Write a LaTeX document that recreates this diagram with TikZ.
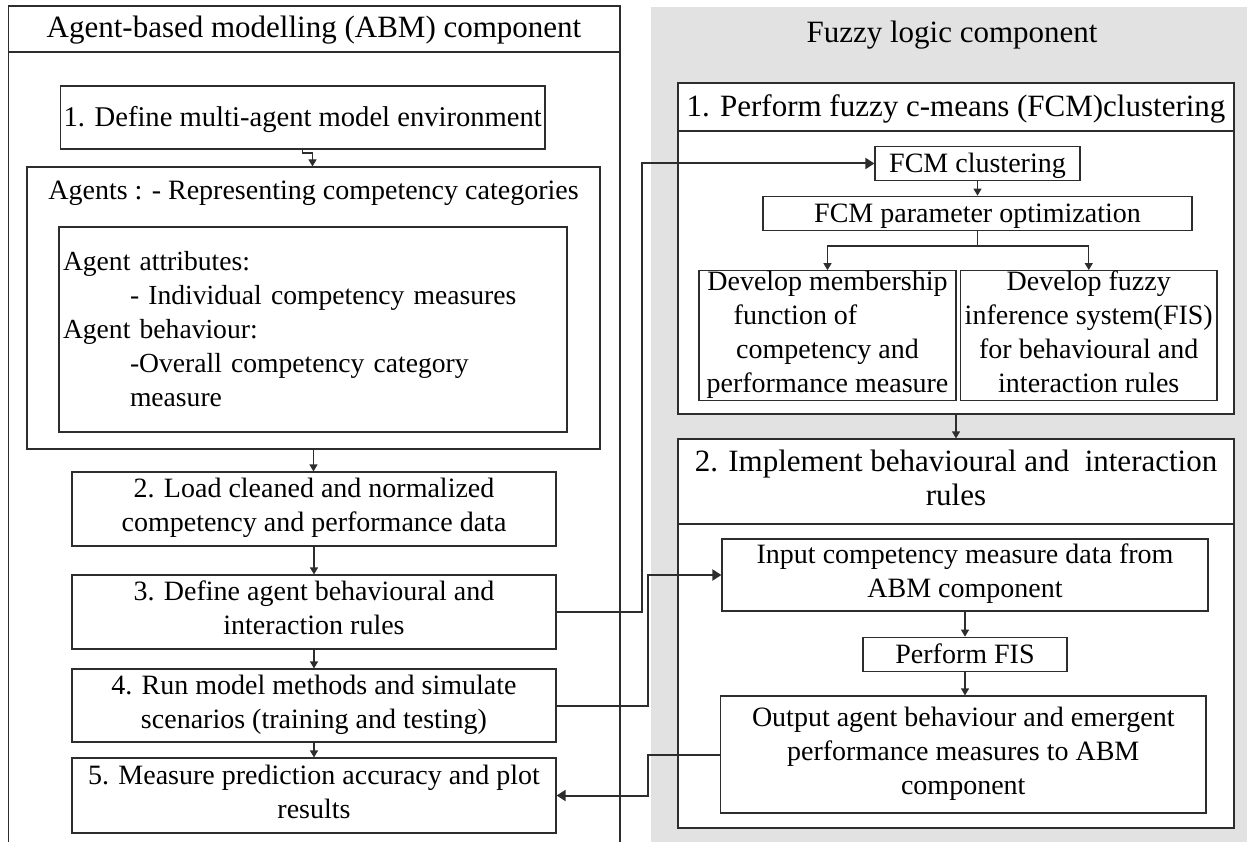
\documentclass[tikz,border=0pt]{standalone}
\usepackage{fontspec}
\setmainfont{Liberation Serif}
\usetikzlibrary{arrows.meta}
\definecolor{bgc}{RGB}{226,226,226}
\definecolor{ln}{RGB}{45,45,45}
\begin{document}
\begin{tikzpicture}[x=1pt,y=-1pt,
  txt/.style={inner sep=0pt, align=center, font=\fontsize{28}{34}\selectfont, text=black,
    execute at begin node={\rule{0pt}{26.5pt}}, execute at end node={\rule[-8pt]{0pt}{8pt}}},
  ttl/.style={txt, font=\fontsize{31}{34}\selectfont},
  box/.style={txt, draw=ln, fill=white, line width=1.2pt},
  arr/.style={draw=ln, line width=1.2pt, -{Triangle[length=7pt,width=8pt]}},
  big/.style={draw=ln, line width=2pt, -{Triangle[length=9pt,width=11pt]}},
  plain/.style={draw=ln, line width=1.2pt}]
\useasboundingbox (0,0) rectangle (1247,842);
% backgrounds
\node[fill=bgc, inner sep=0pt, minimum width=599pt, minimum height=840pt] (bg) at (950.5,427) {};
\node[box, minimum width=611.5pt, minimum height=864pt] (abm) at (314.25,438) {};
\node[ttl] (abmt) at (314,28) {Agent-based modelling (ABM) component};
\draw[plain] (abm.west |- 0,52) -- (abm.east |- 0,52);
\node[ttl] (flt) at (952,33) {Fuzzy logic component};
% left column
\node[box, minimum width=484.5pt, minimum height=63pt, font=\fontsize{28.6}{34}\selectfont] (b1) at (302.75,117.5) {1. Define multi-agent model environment};
\node[box, minimum width=573pt, minimum height=282pt] (agents) at (313.5,308) {};
\node[txt] (agt) at (313.5,190) {Agents : - Representing competency categories};
\node[box, align=left, inner xsep=4pt, text width=500pt, minimum height=205pt, font=\fontsize{27.6}{34}\selectfont] (attr) at (313,329.5)
  {Agent attributes:\\
   \hspace*{67pt}- Individual competency measures\\
   Agent behaviour:\\
   \hspace*{67pt}-Overall competency category\\
   \hspace*{67pt}measure};
\node[box, minimum width=484pt, minimum height=74pt] (b2) at (314,509) {2. Load cleaned and normalized\\competency and performance data};
\node[box, minimum width=484pt, minimum height=74pt] (b3) at (314,612) {3. Define agent behavioural and\\interaction rules};
\node[box, minimum width=484pt, minimum height=73pt] (b4) at (314,705.5) {4. Run model methods and simulate\\scenarios (training and testing)};
\node[box, minimum width=484pt, minimum height=75pt] (b5) at (314,795.5) {5. Measure prediction accuracy and plot\\results};
% right column
\node[box, minimum width=556pt, minimum height=331pt] (p1) at (956,248.5) {};
\node[ttl] (p1t) at (956,107) {1. Perform fuzzy c-means (FCM)clustering};
\draw[plain] (p1.west |- 0,131) -- (p1.east |- 0,131);
\node[box, minimum width=205pt, minimum height=33pt] (fcm) at (977.5,163.5) {FCM clustering};
\node[box, minimum width=429pt, minimum height=33pt] (par) at (977.5,213.5) {FCM parameter optimization};
\node[box, minimum width=257pt, minimum height=129pt] (d1) at (827.5,335.5) {Develop membership\\function of\rule{64pt}{0pt}\\competency and\\performance measure};
\node[box, minimum width=256.5pt, minimum height=129pt] (d2) at (1088.75,335.5) {Develop fuzzy\\inference system(FIS)\\for behavioural and\\interaction rules};
\node[box, minimum width=556pt, minimum height=389pt] (p2) at (956,633.5) {};
\node[ttl] (p2t) at (956,481.5) {2. Implement behavioural and\ \ interaction\\rules};
\draw[plain] (p2.west |- 0,524) -- (p2.east |- 0,524);
\node[box, minimum width=486pt, minimum height=72pt] (inp) at (965,575) {Input competency measure data from\\ABM component};
\node[box, minimum width=204pt, minimum height=33pt] (fis) at (965,654.5) {Perform FIS};
\node[box, minimum width=485.5pt, minimum height=117pt] (out) at (963.25,754.5) {Output agent behaviour and emergent\\performance measures to ABM\\component};
% short arrows
\coordinate (e1) at (302.5,153);
\coordinate (e2) at (312.5,153);
\draw[arr] (b1.south -| e1) -- (e1) -- (e2) -- (e2 |- agents.north);
\draw[arr] (agents.south) -- (agents.south |- b2.north);
\draw[arr] (b2.south) -- (b3.north);
\draw[arr] (b3.south) -- (b4.north);
\draw[arr] (b4.south) -- (b5.north);
\draw[arr] (fcm.south) -- (par.north);
\coordinate (br) at (977.5,246);
\draw[plain] (par.south) -- (br);
\draw[arr] (br) -| (d1.north);
\draw[arr] (br) -| (d2.north);
\draw[arr] (p1.south) -- (p2.north);
\draw[arr] (inp.south) -- (fis.north);
\draw[arr] (fis.south) -- (fis.south |- out.north);
% cross connectors
\coordinate (v1) at (642,0);
\coordinate (v2) at (648,0);
\draw[big] (b3.east) -- (b3.east -| v1) |- (fcm.west);
\draw[big] (b4.east) -- (b4.east -| v2) |- (inp.west);
\draw[big] (out.west) -- (out.west -| v2) |- (b5.east);
\end{tikzpicture}
\end{document}
